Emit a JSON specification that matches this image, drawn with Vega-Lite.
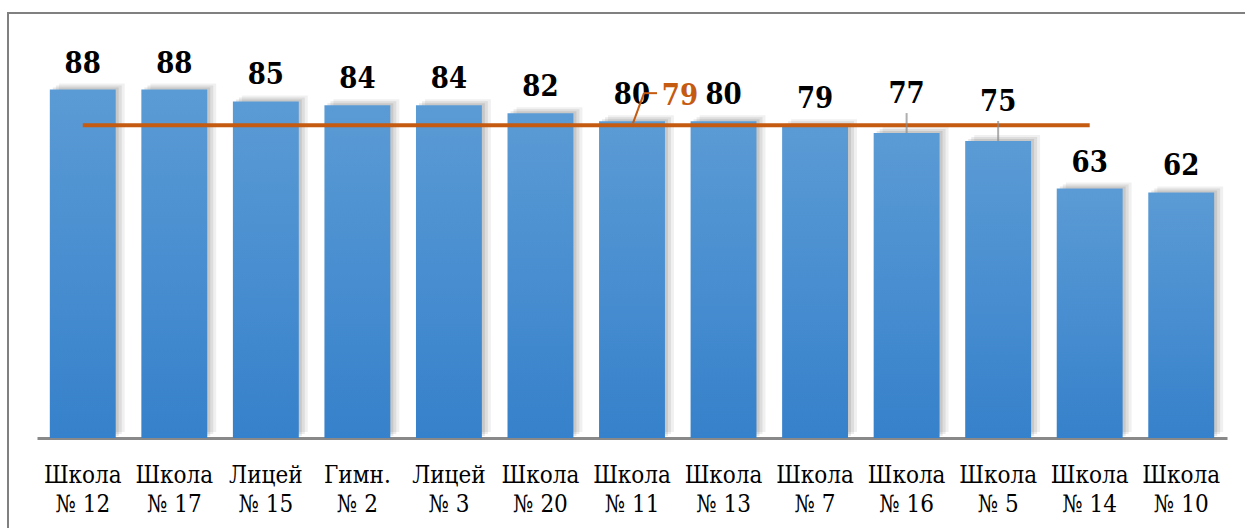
{
  "$schema": "https://vega.github.io/schema/vega-lite/v6.json",
  "autosize": {"type": "none"},
  "width": 1240,
  "height": 518,
  "padding": {"left": 8, "top": 13, "right": -3, "bottom": -3},
  "background": "#ffffff",
  "config": {
    "view": {"stroke": "#808080", "strokeWidth": 2}
  },
  "data": {
    "values": [
      {"name": "Школа № 12", "value": 88, "avg": 79},
      {"name": "Школа № 17", "value": 88, "avg": 79},
      {"name": "Лицей № 15", "value": 85, "avg": 79},
      {"name": "Гимн. № 2", "value": 84, "avg": 79},
      {"name": "Лицей № 3", "value": 84, "avg": 79},
      {"name": "Школа № 20", "value": 82, "avg": 79},
      {"name": "Школа № 11", "value": 80, "avg": 79},
      {"name": "Школа № 13", "value": 80, "avg": 79},
      {"name": "Школа № 7", "value": 79, "avg": 79},
      {"name": "Школа № 16", "value": 77, "avg": 79},
      {"name": "Школа № 5", "value": 75, "avg": 79},
      {"name": "Школа № 14", "value": 63, "avg": 79},
      {"name": "Школа № 10", "value": 62, "avg": null}
    ]
  },
  "encoding": {
    "x": {
      "field": "name",
      "type": "nominal",
      "sort": null,
      "scale": {"range": [29, 1219], "paddingInner": 0.28, "paddingOuter": 0.14},
      "axis": {
        "title": null,
        "orient": "bottom",
        "offset": -93,
        "ticks": false,
        "domainColor": "#898989",
        "domainWidth": 3,
        "labelAngle": 0,
        "labelFont": "DejaVu Serif Condensed",
        "labelFontSize": 24,
        "labelColor": "#000000",
        "labelLineHeight": 29,
        "labelPadding": 25,
        "labelExpr": "[slice(datum.label, 0, indexof(datum.label, ' №')), slice(datum.label, indexof(datum.label, '№'))]"
      }
    }
  },
  "layer": [
    {
      "mark": {"type": "bar", "xOffset": 3, "yOffset": -2, "color": "#000000", "opacity": 0.09},
      "encoding": {"y": {"field": "value", "type": "quantitative", "scale": {"domain": [0, 100], "range": [425, 29]}, "axis": null}}
    },
    {
      "mark": {"type": "bar", "xOffset": 6, "yOffset": -4, "color": "#000000", "opacity": 0.08},
      "encoding": {"y": {"field": "value", "type": "quantitative"}}
    },
    {
      "mark": {"type": "bar", "xOffset": 9, "yOffset": -6, "color": "#000000", "opacity": 0.06},
      "encoding": {"y": {"field": "value", "type": "quantitative"}}
    },
    {
      "mark": {
        "type": "bar",
        "color": {
          "gradient": "linear", "x1": 0, "y1": 0, "x2": 0, "y2": 1,
          "stops": [{"offset": 0, "color": "#5B9BD5"}, {"offset": 1, "color": "#3681CB"}]
        }
      },
      "encoding": {"y": {"field": "value", "type": "quantitative"}}
    },
    {
      "mark": {"type": "line", "color": "#C55A11", "strokeWidth": 4},
      "encoding": {"y": {"field": "avg", "type": "quantitative"}}
    },
    {
      "transform": [{"filter": "datum.name === 'Школа № 16' || datum.name === 'Школа № 5'"}],
      "mark": {"type": "tick", "orient": "vertical", "size": 20, "thickness": 2, "yOffset": -10, "color": "#8C8C8C"},
      "encoding": {"y": {"field": "value", "type": "quantitative"}}
    },
    {
      "transform": [{"filter": "datum.name !== 'Школа № 16' && datum.name !== 'Школа № 5'"}],
      "mark": {"type": "text", "font": "DejaVu Serif Condensed", "fontSize": 29, "fontWeight": "bold", "color": "#000000", "baseline": "alphabetic", "dy": -17},
      "encoding": {"y": {"field": "value", "type": "quantitative"}, "text": {"field": "value", "type": "quantitative"}}
    },
    {
      "transform": [{"filter": "datum.name === 'Школа № 16' || datum.name === 'Школа № 5'"}],
      "mark": {"type": "text", "font": "DejaVu Serif Condensed", "fontSize": 29, "fontWeight": "bold", "color": "#000000", "baseline": "alphabetic", "dy": -30},
      "encoding": {"y": {"field": "value", "type": "quantitative"}, "text": {"field": "value", "type": "quantitative"}}
    },
    {
      "transform": [{"filter": "datum.name === 'Школа № 11'"}],
      "mark": {"type": "text", "font": "DejaVu Serif Condensed", "fontSize": 29, "fontWeight": "bold", "color": "#C55A11", "baseline": "alphabetic", "dy": -20, "dx": 48},
      "encoding": {"y": {"field": "avg", "type": "quantitative"}, "text": {"field": "avg", "type": "quantitative"}}
    },
    {
      "transform": [{"filter": "datum.name === 'Школа № 11'"}],
      "mark": {"type": "rule", "color": "#C55A11", "strokeWidth": 2, "xOffset": 1, "x2Offset": 12, "yOffset": -2, "y2Offset": -32},
      "encoding": {"y": {"field": "avg", "type": "quantitative"}, "x2": {"field": "name"}, "y2": {"field": "avg"}}
    },
    {
      "transform": [{"filter": "datum.name === 'Школа № 11'"}],
      "mark": {"type": "rule", "color": "#C55A11", "strokeWidth": 2, "xOffset": 12, "x2Offset": 25, "yOffset": -32, "y2Offset": -32},
      "encoding": {"y": {"field": "avg", "type": "quantitative"}, "x2": {"field": "name"}, "y2": {"field": "avg"}}
    }
  ]
}
